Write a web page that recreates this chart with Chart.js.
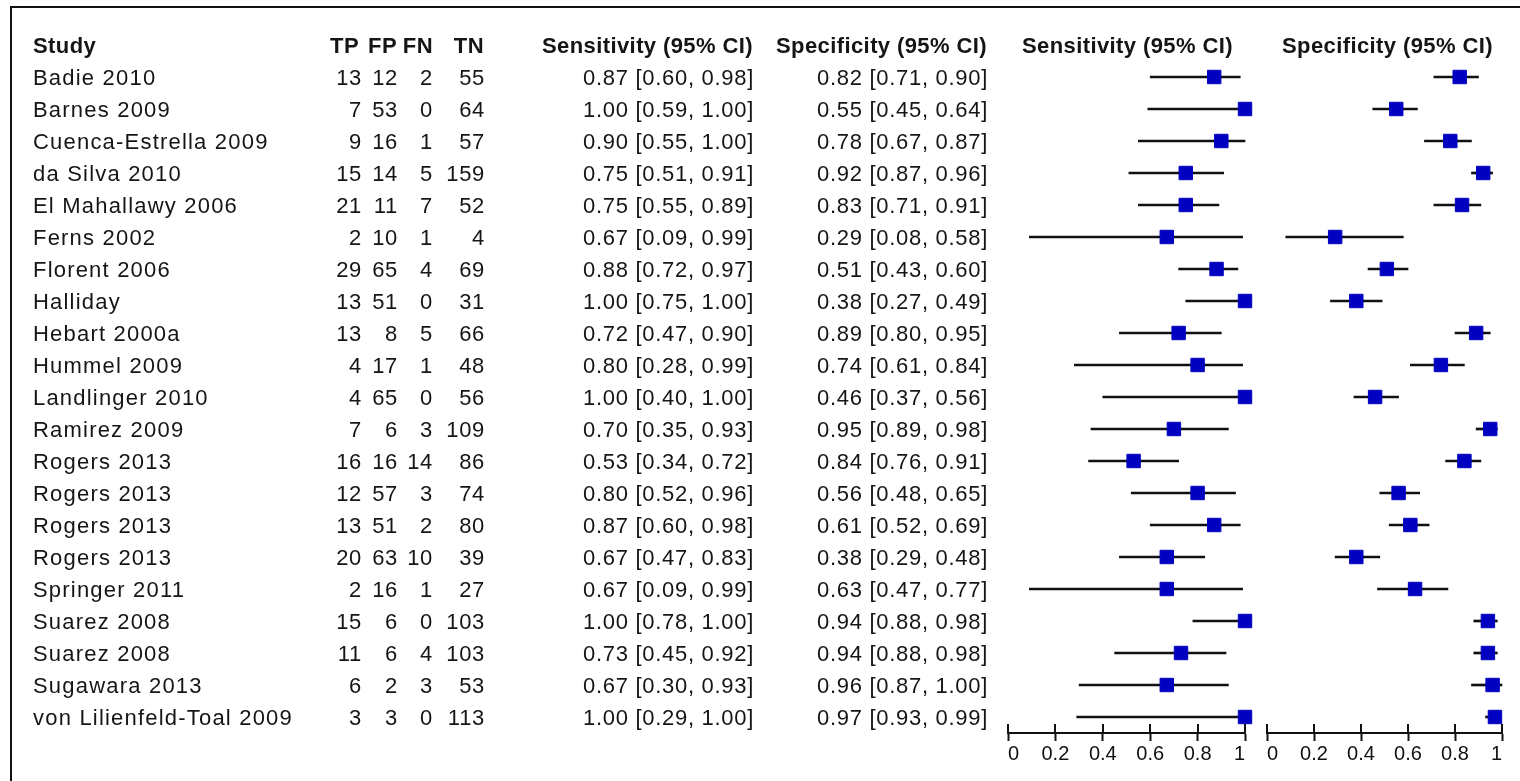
<!DOCTYPE html>
<html>
<head>
<meta charset="utf-8">
<script src="https://cdn.jsdelivr.net/npm/chart.js@4.4.1/dist/chart.umd.min.js"></script>
<style>
  html, body { margin: 0; padding: 0; background: #fff; overflow: hidden; }
  body { width: 1520px; height: 781px; position: relative; }
  .frame { position: absolute; left: 10px; top: 6px; width: 1700px; height: 1000px; border: 2px solid #111; }
  canvas { position: absolute; top: 0; }
  #plotSens { left: 0; }
  #plotSpec { left: 1255px; }
</style>
</head>
<body>
<div class="frame"></div>
<canvas id="plotSens" width="1520" height="781"></canvas>
<canvas id="plotSpec" width="265" height="781"></canvas>
<script>
// Данные
const studies = ['Badie 2010', 'Barnes 2009', 'Cuenca-Estrella 2009', 'da Silva 2010', 'El Mahallawy 2006',
    'Ferns 2002', 'Florent 2006', 'Halliday', 'Hebart 2000a', 'Hummel 2009', 'Landlinger 2010',
    'Ramirez 2009', 'Rogers 2013', 'Rogers 2013', 'Rogers 2013', 'Rogers 2013', 'Springer 2011',
    'Suarez 2008', 'Suarez 2008', 'Sugawara 2013', 'von Lilienfeld-Toal 2009']
const tp = [13, 7, 9, 15, 21, 2, 29, 13, 13, 4, 4, 7, 16, 12, 13, 20, 2, 15, 11, 6, 3]
const fp = [12, 53, 16, 14, 11, 10, 65, 51, 8, 17, 65, 6, 16, 57, 51, 63, 16, 6, 6, 2, 3]
const fn = [2, 0, 1, 5, 7, 1, 4, 0, 5, 1, 0, 3, 14, 3, 2, 10, 1, 0, 4, 3, 0]
const tn = [55, 64, 57, 159, 52, 4, 69, 31, 66, 48, 56, 109, 86, 74, 80, 39, 27, 103, 103, 53, 113]

const sens   = [0.87, 1.00, 0.90, 0.75, 0.75, 0.67, 0.88, 1.00, 0.72, 0.80, 1.00, 0.70, 0.53, 0.80, 0.87, 0.67, 0.67, 1.00, 0.73, 0.67, 1.00]
const sensLo = [0.60, 0.59, 0.55, 0.51, 0.55, 0.09, 0.72, 0.75, 0.47, 0.28, 0.40, 0.35, 0.34, 0.52, 0.60, 0.47, 0.09, 0.78, 0.45, 0.30, 0.29]
const sensHi = [0.98, 1.00, 1.00, 0.91, 0.89, 0.99, 0.97, 1.00, 0.90, 0.99, 1.00, 0.93, 0.72, 0.96, 0.98, 0.83, 0.99, 1.00, 0.92, 0.93, 1.00]

const spec   = [0.82, 0.55, 0.78, 0.92, 0.83, 0.29, 0.51, 0.38, 0.89, 0.74, 0.46, 0.95, 0.84, 0.56, 0.61, 0.38, 0.63, 0.94, 0.94, 0.96, 0.97]
const specLo = [0.71, 0.45, 0.67, 0.87, 0.71, 0.08, 0.43, 0.27, 0.80, 0.61, 0.37, 0.89, 0.76, 0.48, 0.52, 0.29, 0.47, 0.88, 0.88, 0.87, 0.93]
const specHi = [0.90, 0.64, 0.87, 0.96, 0.91, 0.58, 0.60, 0.49, 0.95, 0.84, 0.56, 0.98, 0.91, 0.65, 0.69, 0.48, 0.77, 0.98, 0.98, 1.00, 0.99]

const tickValues = [0, 0.2, 0.4, 0.6, 0.8, 1]
const tickLabels = ['0', '0.2', '0.4', '0.6', '0.8', '1']

const headers = ['Study', 'TP', 'FP', 'FN', 'TN', 'Sensitivity (95% CI)', 'Specificity (95% CI)']

const FONT = '"Liberation Sans", Arial, sans-serif'
const BLUE = '#0000c0'

const ci = (v, lo, hi) => `${v.toFixed(2)} [${lo.toFixed(2)}, ${hi.toFixed(2)}]`

// Таблица слева
const tablePlugin = {
    id: 'table',
    afterDraw(chart) {
        const ctx = chart.ctx
        const y = chart.scales.y
        const dy = 2
        ctx.save()
        ctx.fillStyle = '#151515'
        ctx.textBaseline = 'middle'

        // заголовки
        const hy = y.getPixelForValue(-1) + dy
        ctx.font = 'bold 22px ' + FONT
        ctx.letterSpacing = '0.4px'
        ctx.textAlign = 'left'
        ctx.fillText(headers[0], 33, hy)
        ctx.textAlign = 'right'
        ctx.fillText(headers[1], 359, hy)
        ctx.fillText(headers[2], 397, hy)
        ctx.fillText(headers[3], 433, hy)
        ctx.fillText(headers[4], 484, hy)
        ctx.fillText(headers[5], 753, hy)
        ctx.fillText(headers[6], 987, hy)
        ctx.textAlign = 'left'
        ctx.fillText(headers[5], 1022, hy)
        ctx.fillText(headers[6], 1282, hy)

        ctx.font = '22px ' + FONT
        studies.forEach((name, i) => {
            const ry = y.getPixelForValue(i) + dy
            ctx.textAlign = 'left'
            ctx.letterSpacing = '1.2px'
            ctx.fillText(name, 33, ry)
            ctx.letterSpacing = '0.7px'
            ctx.textAlign = 'right'
            ctx.fillText(String(tp[i]), 362, ry)
            ctx.fillText(String(fp[i]), 398, ry)
            ctx.fillText(String(fn[i]), 433, ry)
            ctx.fillText(String(tn[i]), 485, ry)
            ctx.fillText(ci(sens[i], sensLo[i], sensHi[i]), 754, ry)
            ctx.fillText(ci(spec[i], specLo[i], specHi[i]), 988, ry)
        })
        ctx.restore()
    }
}

// Засечки оси вверх
const upTicks = {
    id: 'upTicks',
    afterDraw(chart) {
        const ctx = chart.ctx
        const x = chart.scales.x
        const bottom = chart.chartArea.bottom
        ctx.save()
        ctx.strokeStyle = '#111'
        ctx.lineWidth = 2
        tickValues.forEach(v => {
            const px = Math.round(x.getPixelForValue(v))
            ctx.beginPath()
            ctx.moveTo(px, bottom - 9)
            ctx.lineTo(px, bottom)
            ctx.stroke()
        })
        ctx.restore()
    }
}

function forest(id, est, lo, hi, padLeft, padRight, extra) {
    const rows = est.map((v, i) => i)
    return new Chart(document.getElementById(id), {
        type: 'bar',
        data: {
            datasets: [{
                type: 'bar',
                indexAxis: 'y',
                data: rows.map(i => ({ y: i, x: [lo[i], hi[i]] })),
                backgroundColor: '#111',
                borderWidth: 0,
                barThickness: 2,
                grouped: false,
                clip: false,
                order: 2
            }, {
                type: 'scatter',
                data: rows.map(i => ({ x: est[i], y: i })),
                pointStyle: 'rect',
                pointRadius: 9.5,
                backgroundColor: BLUE,
                borderColor: BLUE,
                borderWidth: 1,
                clip: false,
                order: 1
            }]
        },
        options: {
            responsive: false,
            animation: false,
            devicePixelRatio: 1,
            layout: { padding: { left: padLeft, right: padRight, top: 29, bottom: 14 } },
            plugins: { legend: { display: false }, tooltip: { enabled: false } },
            scales: {
                x: {
                    type: 'linear',
                    min: 0,
                    max: 1,
                    offset: false,
                    afterBuildTicks: s => { s.ticks = tickValues.map(v => ({ value: v })) },
                    border: { display: true, color: '#111', width: 2 },
                    grid: { offset: false, drawOnChartArea: false, tickLength: 8, tickWidth: 2, color: '#111' },
                    ticks: {
                        padding: 1,
                        align: 'inner',
                        color: '#111',
                        font: { family: FONT, size: 20 },
                        maxRotation: 0,
                        autoSkip: false,
                        callback: (v, i) => tickLabels[i]
                    }
                },
                y: {
                    type: 'linear',
                    reverse: true,
                    min: -1.5,
                    max: 20.5,
                    offset: false,
                    grid: { offset: false },
                    display: false
                }
            }
        },
        plugins: extra
    })
}

forest('plotSens', sens, sensLo, sensHi, 1008, 275, [tablePlugin, upTicks])
forest('plotSpec', spec, specLo, specHi, 12, 18, [upTicks])
</script>
</body>
</html>
